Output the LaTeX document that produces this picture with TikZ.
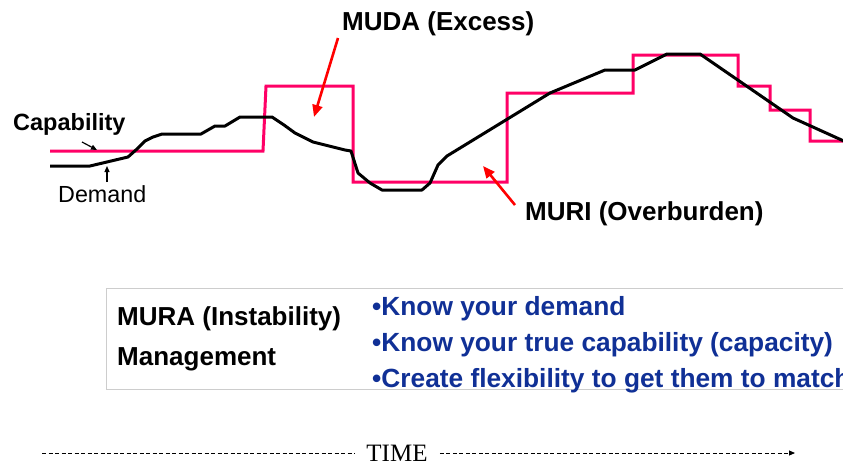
\documentclass[tikz,border=0pt]{standalone}
\usepackage{fontspec}
\setmainfont{Liberation Sans}
\newfontfamily\timesf{Liberation Serif}
\usetikzlibrary{arrows.meta}
\definecolor{caprose}{RGB}{255,0,102}
\definecolor{arrred}{RGB}{255,0,0}
\definecolor{bulblue}{RGB}{16,48,150}
\definecolor{boxgray}{RGB}{205,205,205}
\begin{document}
\begin{tikzpicture}[x=1pt,y=-1pt,
  bigbold/.style={anchor=base west, inner sep=0pt, font=\bfseries\fontsize{26}{30}\selectfont},
  midbold/.style={anchor=base west, inner sep=0pt, font=\bfseries\fontsize{23.5}{28}\selectfont},
  bluebold/.style={anchor=base west, inner sep=0pt, text=bulblue, font=\bfseries\fontsize{26.3}{30}\selectfont},
  plainlbl/.style={anchor=base west, inner sep=0pt, font=\fontsize{23.3}{28}\selectfont},
  capline/.style={caprose, line width=3pt, line join=miter},
  demline/.style={black, line width=3pt, line join=round},
  redarrow/.style={arrred, line width=2.6pt, -{Triangle[length=12pt,width=10pt]}},
  thinarrow/.style={black, line width=1.2pt, -{Triangle[length=6pt,width=5pt]}},
  timeline/.style={black, line width=0.9pt, dash pattern=on 4pt off 2.5pt}
]
\clip (0,0) rectangle (843,466);
\fill[white] (0,0) rectangle (843,466);

% capability (pink step line)
\draw[capline] (50,151) -- (263,151) -- (266,86) -- (353,86) -- (353,182) -- (507,182)
  -- (507,93) -- (633,93) -- (633,55) -- (738,55) -- (738,86) -- (770,86)
  -- (770,110) -- (810,110) -- (810,141) -- (846,141);

% demand (black line)
\draw[demline] (50,166) -- (90,166) -- (128,157) -- (137,149) -- (145,141) -- (153,137)
  -- (162,134) -- (201,134) -- (215,126) -- (225,126) -- (240,117) -- (272,117)
  -- (284,125) -- (295,133) -- (313,142) -- (345,150) -- (351,151) -- (358,173)
  -- (370,183) -- (382,190) -- (422,190) -- (430,183) -- (438,165) -- (447,156)
  -- (550,93) -- (605,70) -- (635,70) -- (667,54) -- (700,54) -- (793,118) -- (846,142);

% labels
\node[midbold] (cap) at (13,130) {Capability};
\node[plainlbl] (dem) at (58,202) {Demand};
\node[bigbold] (muda) at (342,30) {MUDA (Excess)};
\node[bigbold] (muri) at (525,220) {MURI (Overburden)};

% small arrows to lines
\coordinate (captail) at (82,142);
\coordinate (captip) at (97,150);
\draw[thinarrow] (captail) -- (captip);
\coordinate (demtail) at (107,182);
\coordinate (demtip) at (107,166);
\draw[thinarrow] (demtail) -- (demtip);

% red arrows
\coordinate (mudatail) at (338,38);
\coordinate (mudatip) at (314,117);
\draw[redarrow] (mudatail) -- (mudatip);
\coordinate (muritail) at (515,205);
\coordinate (muritip) at (483,166);
\draw[redarrow] (muritail) -- (muritip);

% MURA box
\draw[boxgray, line width=0.8pt] (860,288) -- (106,288) -- (106,389) -- (860,389);
\node[bigbold] (mura) at (117,325) {MURA (Instability)};
\node[bigbold] (mgmt) at (117,365) {Management};
\node[bluebold] (b1) at (372,315) {•Know your demand};
\node[bluebold] (b2) at (372,351) {•Know your true capability (capacity)};
\node[bluebold] (b3) at (372,387) {•Create flexibility to get them to match};

% TIME axis
\node[inner xsep=12pt, inner ysep=0pt, font=\timesf\fontsize{25}{28}\selectfont] (time) at (397,453) {TIME};
\coordinate (tstart) at (42,453);
\coordinate (tend) at (795,453);
\draw[timeline] (tstart) -- (time.west);
\draw[timeline, -{Triangle[length=6pt,width=5pt]}] (time.east) -- (tend);
\end{tikzpicture}
\end{document}
